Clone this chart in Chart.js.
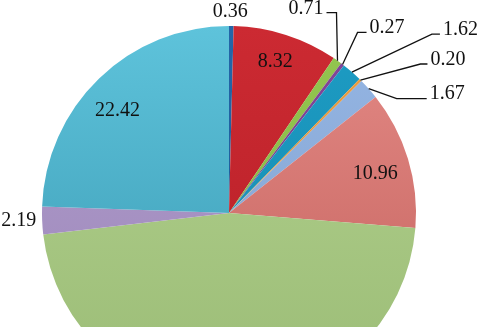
<!DOCTYPE html>
<html>
<head>
<meta charset="utf-8">
<script src="https://cdn.jsdelivr.net/npm/chart.js@4"></script>
<style>
  html, body { margin: 0; padding: 0; background: #fff; overflow: hidden; }
  #wrap { width: 482px; height: 327px; overflow: hidden; }
</style>
</head>
<body>
<div id="wrap"><canvas id="myChart" width="482" height="426"></canvas></div>
<script>
// slice values, clockwise from 12 o'clock
let labels1 = ['A', 'B', 'C', 'D', 'E', 'F', 'G', 'H', 'I', 'J', 'K'];
let data1 = [0.36, 8.32, 0.71, 0.27, 1.62, 0.20, 1.67, 10.96, 43.0, 2.19, 22.42];
let valueText = ['0.36', '8.32', '0.71', '0.27', '1.62', '0.20', '1.67', '10.96', '', '2.19', '22.42'];

// light (top) / dark (bottom) shades for each slice
let colorsTop = ['#2466a8', '#cc2a32', '#93c650', '#84479a', '#1d9cc4', '#ec9f42', '#95b6e4', '#e48a86', '#b3d28f', '#b09dcd', '#5ec3db'];
let colorsBottom = ['#1a5590', '#b41e26', '#84b440', '#6f3782', '#1587ac', '#d98a30', '#809fcc', '#c2605b', '#9bbc76', '#9c86b8', '#3897b0'];

// label placement: inside at a radius fraction (da = angle nudge in degrees),
// or outside with a leader line
let labelCfg = [
    {out: true, dx: -1, dy: -14, align: 'center'},
    {r: 0.845, da: -0.7},
    {out: true, line: [-1, -48, -10, 0], gap: -3, ty: -4, align: 'right'},
    {out: true, line: [15, -32, 9, 0], gap: 3, ty: -5, align: 'left'},
    {out: true, line: [80, -38, 8, 0], gap: 3, ty: -4, align: 'left'},
    {out: true, line: [60, -16, 7, 0], gap: 3, ty: -4, align: 'left'},
    {out: true, line: [28, 10, 30, 0], gap: 3, ty: -5, align: 'left'},
    {r: 0.81, da: 1.7},
    null,
    {out: true, dx: -6, dy: 0, align: 'right'},
    {r: 0.81, da: -3.4}
];

let valueLabels = {
    id: 'valueLabels',
    afterDatasetsDraw(chart) {
        let ctx = chart.ctx;
        let meta = chart.getDatasetMeta(0);
        ctx.save();
        ctx.font = '20px "Liberation Serif", "Times New Roman", serif';
        ctx.fillStyle = '#111';
        ctx.strokeStyle = '#111';
        ctx.lineWidth = 1.3;
        ctx.textBaseline = 'middle';
        meta.data.forEach((arc, i) => {
            let cfg = labelCfg[i];
            if (!cfg) return;
            let p = arc.getProps(['x', 'y', 'startAngle', 'endAngle', 'outerRadius'], true);
            let mid = (p.startAngle + p.endAngle) / 2;
            if (!cfg.out) {
                let rr = p.outerRadius * cfg.r;
                let a = mid + (cfg.da || 0) * Math.PI / 180;
                ctx.textAlign = 'center';
                ctx.fillText(valueText[i], p.x + Math.cos(a) * rr, p.y + Math.sin(a) * rr);
                return;
            }
            let ax = p.x + Math.cos(mid) * p.outerRadius;
            let ay = p.y + Math.sin(mid) * p.outerRadius;
            ctx.textAlign = cfg.align;
            if (!cfg.line) {
                ctx.fillText(valueText[i], ax + cfg.dx, ay + cfg.dy);
                return;
            }
            let ex = ax + cfg.line[0], ey = ay + cfg.line[1];
            let hx = ex + cfg.line[2], hy = ey + cfg.line[3];
            ctx.beginPath();
            ctx.moveTo(ax, ay);
            ctx.lineTo(ex, ey);
            ctx.lineTo(hx, hy);
            ctx.stroke();
            ctx.fillText(valueText[i], hx + cfg.gap, hy + cfg.ty);
        });
        ctx.restore();
    }
};

let myChart = document.getElementById('myChart').getContext('2d');

let chart = new Chart(myChart, {
    type: 'pie',
    data: {
        labels: labels1,
        datasets: [{
            data: data1,
            borderWidth: 0,
            backgroundColor: (c) => {
                let area = c.chart.chartArea;
                if (!area) return colorsTop[c.dataIndex];
                let g = c.chart.ctx.createLinearGradient(0, area.top, 0, area.bottom);
                g.addColorStop(0, colorsTop[c.dataIndex]);
                g.addColorStop(1, colorsBottom[c.dataIndex]);
                return g;
            }
        }]
    },
    options: {
        responsive: false,
        animation: false,
        layout: {
            padding: {left: 42, right: 66, top: 26, bottom: 26}
        },
        plugins: {
            legend: {display: false},
            tooltip: {enabled: false}
        }
    },
    plugins: [valueLabels]
});
</script>
</body>
</html>
